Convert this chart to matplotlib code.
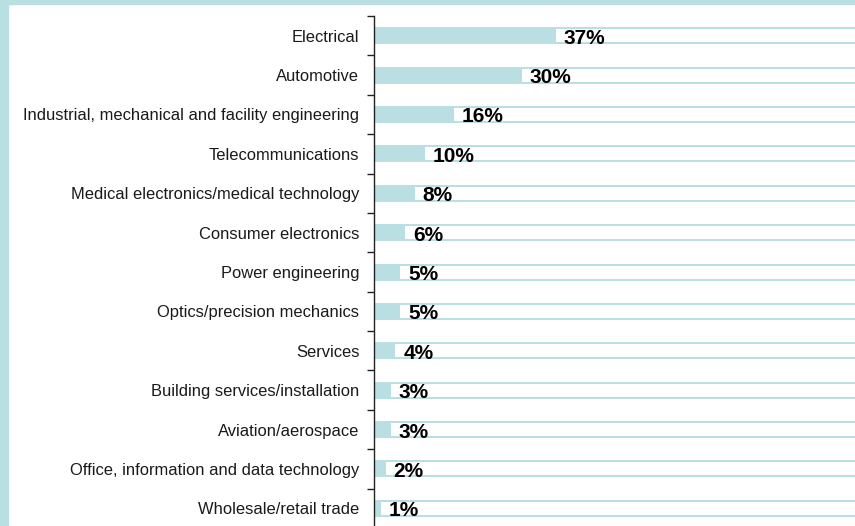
import matplotlib
matplotlib.use("Agg")
import matplotlib.pyplot as plt
from matplotlib.patches import Rectangle

categories = [
    "Electrical",
    "Automotive",
    "Industrial, mechanical and facility engineering",
    "Telecommunications",
    "Medical electronics/medical technology",
    "Consumer electronics",
    "Power engineering",
    "Optics/precision mechanics",
    "Services",
    "Building services/installation",
    "Aviation/aerospace",
    "Office, information and data technology",
    "Wholesale/retail trade",
]
values = [37, 30, 16, 10, 8, 6, 5, 5, 4, 3, 3, 2, 1]
value_labels = ["37%", "30%", "16%", "10%", "8%", "6%", "5%", "5%", "4%", "3%", "3%", "2%", "1%"]

TEAL = "#b9dfe2"
W, H, DPI = 855, 526, 100

plt.rcParams["font.family"] = ["Liberation Sans", "DejaVu Sans"]
fig = plt.figure(figsize=(W / DPI, H / DPI), dpi=DPI)
fig.patch.set_facecolor("white")

# teal frame (left strip and top strip)
fig.patches.append(Rectangle((0, 0), 8 / W, 1, transform=fig.transFigure, color=TEAL, zorder=0))
fig.patches.append(Rectangle((0, 1 - 4 / H), 1, 4 / H, transform=fig.transFigure, color=TEAL, zorder=0))

ax = fig.add_axes([374 / W, -2 / H, 1 - 374 / W, (H - 16 + 2) / H])
xmax = 99
ax.set_xlim(0, xmax)
n = len(categories)
ax.set_ylim(n - 0.5, -0.5)
ys = list(range(n))

px_per_row = (H - 16 + 2) / n
bar_h = 17 / px_per_row
inner_h = 13 / px_per_row
px_per_unit = (W - 374) / xmax

# full teal band
ax.barh(ys, [xmax] * n, height=bar_h, color=TEAL, zorder=1)
# white label boxes starting just after each bar's end
gap = 2 / px_per_unit
ax.barh(ys, [xmax - v - gap for v in values], left=[v + gap for v in values],
        height=inner_h, color="white", zorder=2)

for y, v, lab in zip(ys, values, value_labels):
    ax.annotate(lab, (v, y), xytext=(10 * 72 / DPI, -2.5 * 72 / DPI), textcoords="offset points",
                ha="left", va="center", fontsize=15, fontweight="bold", color="black", zorder=3)

ax.set_yticks(ys)
ax.set_yticklabels(categories, fontsize=11.9, color="#1a1a1a")
ax.tick_params(axis="y", which="major", length=0, pad=10.5)
ax.set_yticks([i - 0.5 for i in range(n + 1)], minor=True)
ax.tick_params(axis="y", which="minor", length=5, width=1, color="#222222", direction="out")
ax.set_xticks([])
for s in ["top", "right", "bottom"]:
    ax.spines[s].set_visible(False)
ax.spines["left"].set_color("#222222")
ax.spines["left"].set_linewidth(1)
ax.set_facecolor("white")

fig.savefig("out.png", dpi=DPI)
